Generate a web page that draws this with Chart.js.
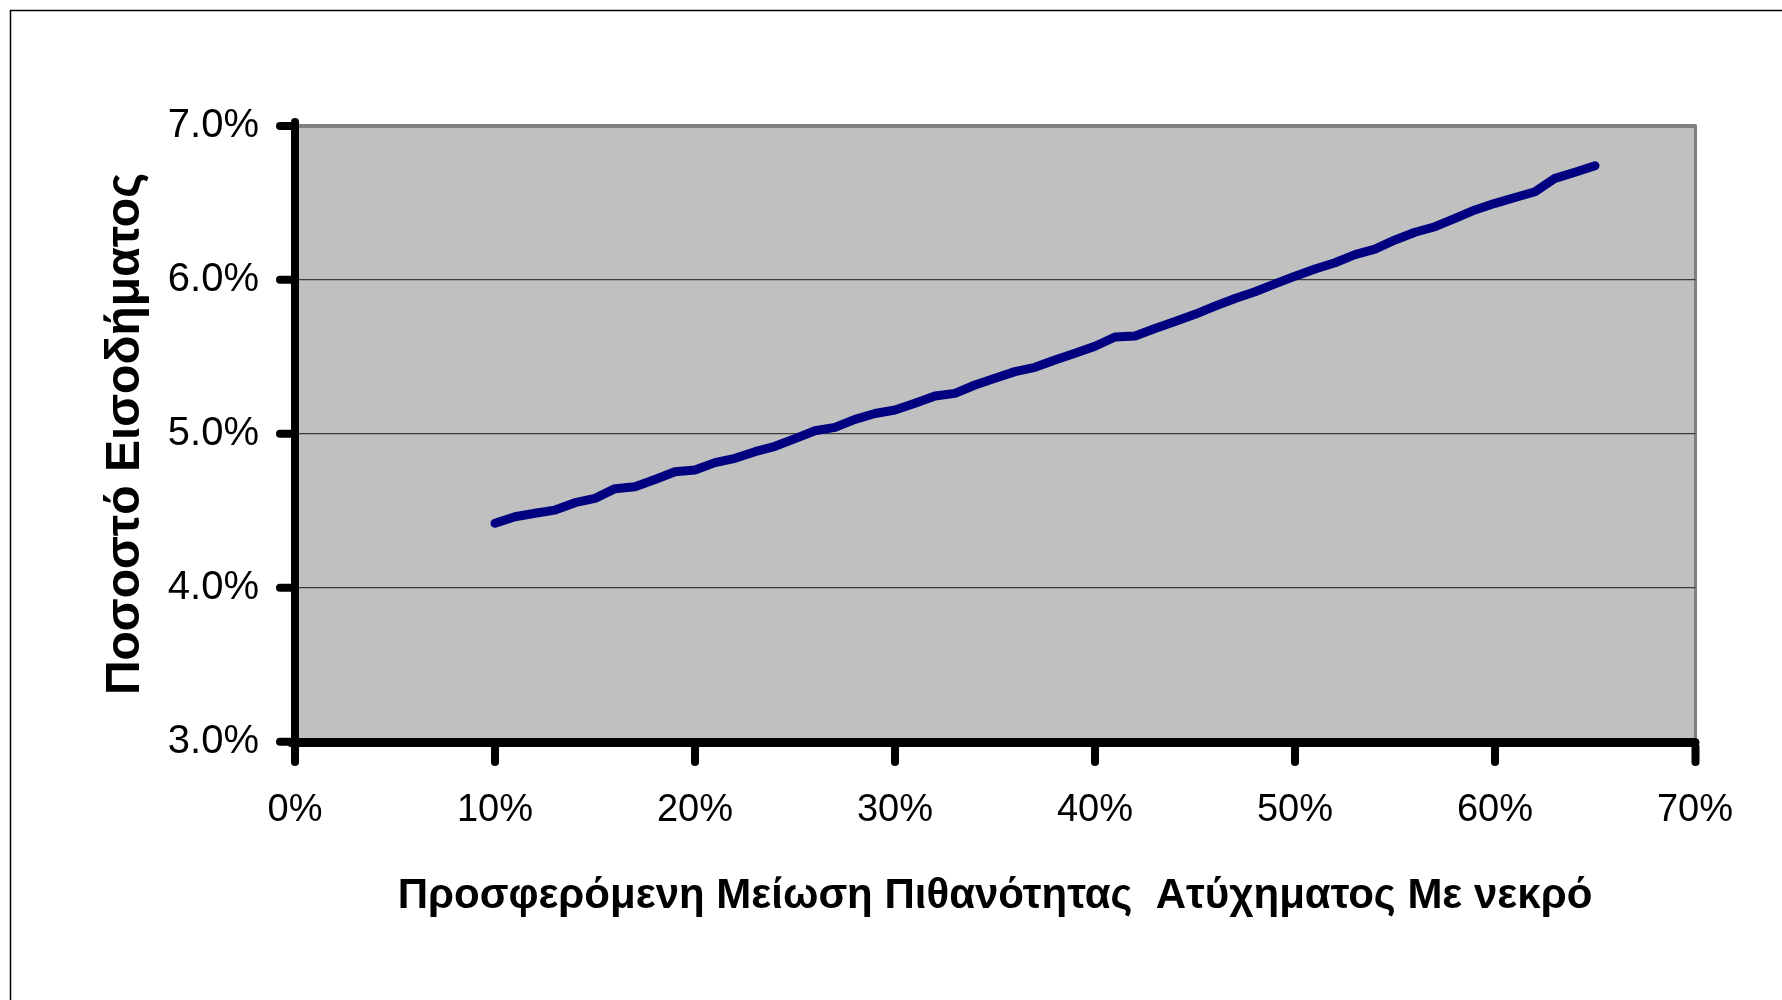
<!DOCTYPE html>
<html>
<head>
<meta charset="utf-8">
<script src="https://cdn.jsdelivr.net/npm/chart.js@4/dist/chart.umd.min.js"></script>
<style>
  html, body { margin: 0; padding: 0; background: #ffffff; }
  #c { display: block; }
</style>
</head>
<body>
<canvas id="c" width="1782" height="1000"></canvas>
<script>
// ---- Data ----
const reductionPct = [10, 11, 12, 13, 14, 15, 16, 17, 18, 19,
                      20, 21, 22, 23, 24, 25, 26, 27, 28, 29,
                      30, 31, 32, 33, 34, 35, 36, 37, 38, 39,
                      40, 41, 42, 43, 44, 45, 46, 47, 48, 49,
                      50, 51, 52, 53, 54, 55, 56, 57, 58, 59,
                      60, 61, 62, 63, 64, 65];
const incomePct = [4.42, 4.463, 4.485, 4.506, 4.554, 4.582, 4.645, 4.657, 4.705, 4.755,
                   4.766, 4.814, 4.842, 4.885, 4.92, 4.97, 5.021, 5.043, 5.095, 5.133,
                   5.156, 5.20, 5.247, 5.264, 5.318, 5.362, 5.405, 5.433, 5.48, 5.524,
                   5.57, 5.63, 5.636, 5.685, 5.73, 5.777, 5.83, 5.88, 5.924, 5.975,
                   6.025, 6.071, 6.112, 6.165, 6.201, 6.26, 6.31, 6.346, 6.40, 6.455,
                   6.498, 6.536, 6.573, 6.66, 6.70, 6.742];
const xTickValues = [0, 10, 20, 30, 40, 50, 60, 70];
const yTickValues = [3, 4, 5, 6, 7];
const xTitle = 'Προσφερόμενη Μείωση Πιθανότητας  Ατύχηματος Με νεκρό';
const yTitle = 'Ποσοστό Εισοδήματος';

const FONT = "'Liberation Sans', Arial, sans-serif";

const points = reductionPct.map((x, i) => ({ x: x, y: incomePct[i] }));

const backgroundPlugin = {
  id: 'bg',
  beforeDraw(chart) {
    const ctx = chart.ctx;
    const a = chart.chartArea;
    ctx.save();
    ctx.fillStyle = '#ffffff';
    ctx.fillRect(0, 0, chart.width, chart.height);
    // outer frame (left and top visible)
    ctx.strokeStyle = '#000000';
    ctx.lineWidth = 1.5;
    ctx.beginPath();
    ctx.moveTo(10.5, chart.height + 5);
    ctx.lineTo(10.5, 10.5);
    ctx.lineTo(chart.width + 5, 10.5);
    ctx.stroke();
    // plot area
    ctx.fillStyle = '#c0c0c0';
    ctx.fillRect(a.left, a.top, a.right - a.left, a.bottom - a.top);
    ctx.restore();
    ctx.lineCap = 'round';
  }
};

new Chart(document.getElementById('c'), {
  type: 'line',
  data: {
    datasets: [{
      data: points,
      borderColor: '#000080',
      borderWidth: 9,
      pointRadius: 0,
      pointHoverRadius: 0,
      tension: 0,
      borderCapStyle: 'round',
      borderJoinStyle: 'round',
      fill: false,
      clip: false
    }]
  },
  options: {
    responsive: false,
    animation: false,
    devicePixelRatio: 1,
    layout: { padding: { left: 0, right: 87, top: 126, bottom: 0 } },
    plugins: { legend: { display: false }, tooltip: { enabled: false } },
    scales: {
      x: {
        type: 'linear',
        position: 'bottom',
        min: 0, max: 70,
        afterBuildTicks(scale) { scale.ticks = xTickValues.map(v => ({ value: v })); },
        afterFit(scale) { scale.height = 258; },
        ticks: {
          color: '#000000',
          font: { family: FONT, size: 38 },
          padding: 26,
          maxRotation: 0,
          autoSkip: false,
          callback: (v) => v + '%'
        },
        grid: {
          drawOnChartArea: true,
          drawTicks: true,
          tickLength: 20,
          tickWidth: 8,
          tickColor: '#000000',
          color: (c) => (c.tick && c.tick.value === 70) ? '#808080' : 'rgba(0,0,0,0)',
          lineWidth: (c) => (c.tick && c.tick.value === 70) ? 3 : 0
        },
        border: { display: true, color: '#000000', width: 9 },
        title: {
          display: true,
          text: xTitle,
          color: '#000000',
          font: { family: FONT, size: 42, weight: 'bold' },
          padding: { top: 0, bottom: 78 }
        }
      },
      y: {
        type: 'linear',
        position: 'left',
        min: 3, max: 7,
        afterBuildTicks(scale) { scale.ticks = yTickValues.map(v => ({ value: v })); },
        afterFit(scale) { scale.width = 295; },
        ticks: {
          color: '#000000',
          font: { family: FONT, size: 40 },
          padding: 21,
          autoSkip: false,
          callback: (v) => v.toFixed(1) + '%'
        },
        grid: {
          drawOnChartArea: true,
          drawTicks: true,
          tickLength: 15,
          tickWidth: 8,
          tickColor: '#000000',
          color: (c) => {
            if (!c.tick) return 'rgba(0,0,0,0)';
            if (c.tick.value === 7) return '#808080';
            if (c.tick.value === 3) return 'rgba(0,0,0,0)';
            return '#3a3a3a';
          },
          lineWidth: (c) => (c.tick && c.tick.value === 7) ? 4 : 1.3
        },
        border: { display: true, color: '#000000', width: 8 },
        title: {
          display: true,
          text: yTitle,
          color: '#000000',
          font: { family: FONT, size: 48, weight: 'bold' },
          padding: { top: 97, bottom: 0 }
        }
      }
    }
  },
  plugins: [backgroundPlugin]
});
</script>
</body>
</html>
